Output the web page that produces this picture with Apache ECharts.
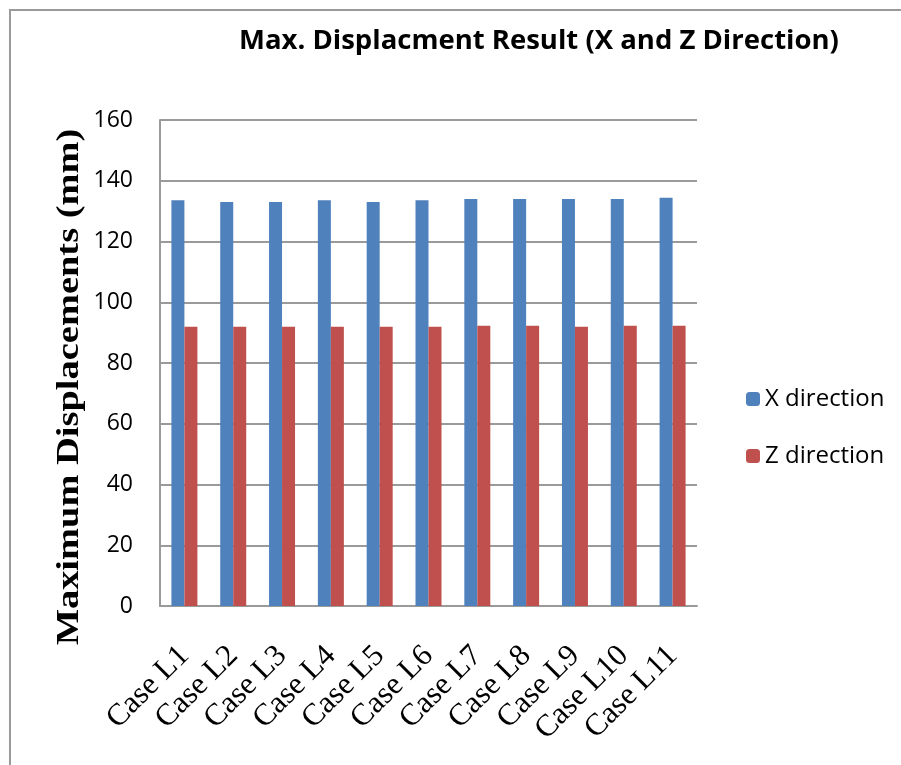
<!DOCTYPE html>
<html>
<head>
<meta charset="utf-8">
<script src="https://cdn.jsdelivr.net/npm/echarts@6/dist/echarts.min.js"></script>
<style>
html,body{margin:0;padding:0;background:#fff;}
#main{width:901px;height:765px;}
</style>
</head>
<body>
<div id="main"></div>
<script>
const categories = ['Case L1','Case L2','Case L3','Case L4','Case L5','Case L6','Case L7','Case L8','Case L9','Case L10','Case L11'];
const xDirection = [133.6,133.0,133.0,133.6,133.0,133.6,134.0,134.0,134.0,134.0,134.4];
const zDirection = [91.9,91.9,91.9,91.9,91.9,91.9,92.3,92.3,91.9,92.3,92.3];
const yTicks = [0,20,40,60,80,100,120,140,160];

const chart = echarts.init(document.getElementById('main'));
chart.setOption({
  backgroundColor: '#ffffff',
  animation: false,
  title: {
    text: 'Max. Displacment Result (X and Z Direction)',
    left: 234, top: 22,
    textStyle: {fontFamily: 'Open Sans', fontWeight: 'bold', fontSize: 27.5, color: '#000'}
  },
  graphic: [
    {type: 'rect', shape: {x: 10, y: 10, width: 1000, height: 1000}, style: {fill: 'none', stroke: '#9a9a9a', lineWidth: 2}, silent: true},
    {type: 'text', x: 70, y: 387, rotation: Math.PI/2, scaleX: 1.24, scaleY: 1,
     style: {text: 'Maximum Displacements (mm)', font: 'bold 31px "Liberation Serif"', fill: '#000', textAlign: 'center', textVerticalAlign: 'middle'}}
  ],
  legend: {
    orient: 'vertical', left: 741, top: 382,
    itemWidth: 14, itemHeight: 14, itemGap: 33,
    textStyle: {fontFamily: 'Open Sans', fontSize: 24, color: '#000'},
    data: ['X direction','Z direction']
  },
  grid: {left: 160, right: 204, top: 120, bottom: 159, containLabel: false},
  xAxis: {
    type: 'category', data: categories,
    axisLine: {lineStyle: {color: '#9a9a9a', width: 2}},
    axisTick: {show: false},
    axisLabel: {rotate: 45, interval: 0, margin: 45, fontFamily: 'Liberation Serif', fontSize: 31, color: '#000'}
  },
  yAxis: {
    type: 'value', min: 0, max: 160, interval: 20,
    axisLine: {show: true, lineStyle: {color: '#9a9a9a', width: 2}},
    axisTick: {show: false},
    splitLine: {lineStyle: {color: '#9a9a9a', width: 2}},
    axisLabel: {margin: 27, fontFamily: 'Open Sans', fontSize: 23, color: '#000',
      formatter: v => yTicks.includes(v) ? String(v) : ''}
  },
  series: [
    {name: 'X direction', type: 'bar', data: xDirection, barWidth: 13, barGap: '0%', itemStyle: {color: '#4F81BD'}},
    {name: 'Z direction', type: 'bar', data: zDirection, barWidth: 13, barGap: '0%', itemStyle: {color: '#C0504D'}}
  ]
});
</script>
</body>
</html>
